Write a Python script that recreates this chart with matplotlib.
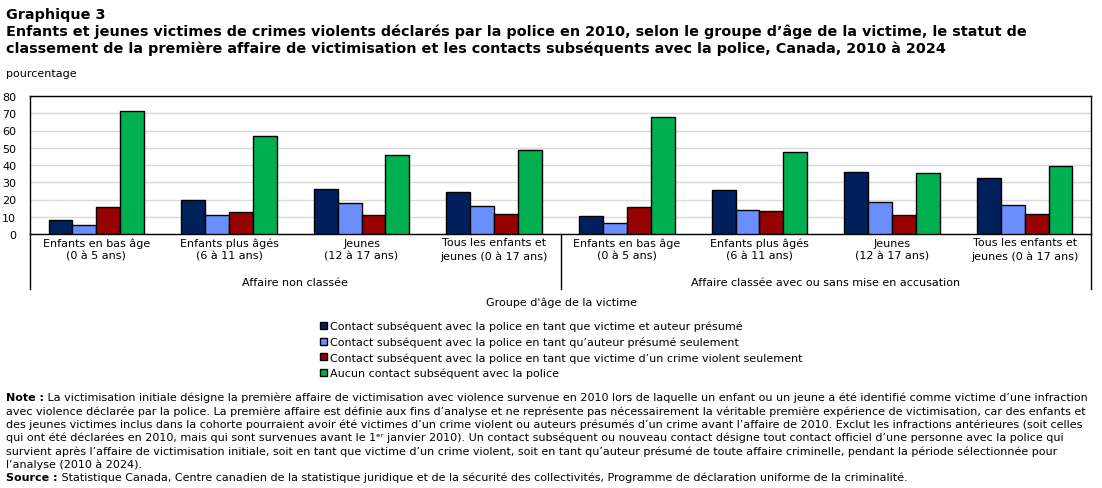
import numpy as np
import matplotlib
matplotlib.use("Agg")
import matplotlib.pyplot as plt
import matplotlib.transforms as mtransforms

W, H = 1102, 489

# Data
age_groups = ["Enfants en bas âge\n(0 à 5 ans)", "Enfants plus âgés\n(6 à 11 ans)",
              "Jeunes\n(12 à 17 ans)", "Tous les enfants et\njeunes (0 à 17 ans)"]
statuses = ["Affaire non classée", "Affaire classée avec ou sans mise en accusation"]
series_names = [
    "Contact subséquent avec la police en tant que victime et auteur présumé",
    "Contact subséquent avec la police en tant qu\u2019auteur présumé seulement",
    "Contact subséquent avec la police en tant que victime d\u2019un crime violent seulement",
    "Aucun contact subséquent avec la police",
]
victime_et_auteur = [8.1, 19.7, 26.1, 24.3, 10.4, 25.5, 35.9, 32.5]
auteur_seulement = [5.2, 11.0, 18.0, 16.2, 6.4, 13.9, 18.6, 16.8]
victime_seulement = [15.7, 12.8, 11.0, 11.6, 15.7, 13.3, 11.0, 11.6]
aucun_contact = [71.1, 56.6, 45.8, 48.7, 67.8, 47.5, 35.4, 39.4]
colors = ["#00205C", "#6B8EFF", "#960000", "#00B050"]

series = [victime_et_auteur, auteur_seulement, victime_seulement, aucun_contact]

fig = plt.figure(figsize=(W / 100, H / 100), dpi=100)


def ftext(x, y, s, **kw):
    return fig.text(x / W, 1 - y / H, s, **kw)


# axes in pixel coords
left, right, top, bottom = 30, 1091, 97, 235
ax = fig.add_axes([left / W, 1 - bottom / H, (right - left) / W, (bottom - top) / H])

x = np.arange(8)
bw = 0.18
for i, (vals, c) in enumerate(zip(series, colors)):
    ax.bar(x + (i - 1.5) * bw, vals, bw, color=c, edgecolor="black", linewidth=1,
           label=series_names[i], zorder=3)

ax.set_xlim(-0.5, 7.5)
ax.set_ylim(0, 80)
ax.set_yticks(range(0, 81, 10))
ax.yaxis.grid(True, color="#d9d9d9", linewidth=1, zorder=0)
ax.tick_params(axis="y", length=0, labelsize=8, pad=10)
ax.set_xticks([])
for sp in ax.spines.values():
    sp.set_linewidth(1)
    sp.set_color("black")

# category and status labels below the axis
tr = mtransforms.blended_transform_factory(ax.transData, ax.transAxes)
ph = bottom - top
for k in range(8):
    ax.text(k, -(250 - bottom) / ph, age_groups[k % 4], transform=tr, ha="center", va="center",
            fontsize=8, linespacing=1.3)
for j, s in enumerate(statuses):
    ax.text(1.5 + 4 * j, -(283 - bottom) / ph, s, transform=tr, ha="center", va="center", fontsize=8)
for xv in [-0.5, 3.5, 7.5]:
    ax.plot([xv, xv], [0, -(290 - bottom) / ph], transform=tr, color="black", linewidth=1,
            clip_on=False)

ftext(561, 303, "Groupe d'âge de la victime", ha="center", va="center", fontsize=8)

# legend
handles, labels = ax.get_legend_handles_labels()
leg = fig.legend(handles, labels, loc="upper left", bbox_to_anchor=(320 / W, 1 - 322 / H),
                 frameon=False, fontsize=8, handlelength=0.6, handleheight=0.6,
                 handletextpad=0.3, labelspacing=0.45, borderaxespad=0, borderpad=0)

# titles
fs_title = 10.35
ftext(6, 15, "Graphique 3", fontsize=fs_title, fontweight="bold", va="center")
ftext(6, 32, "Enfants et jeunes victimes de crimes violents déclarés par la police en 2010, selon le groupe d\u2019âge de la victime, le statut de",
      fontsize=fs_title, fontweight="bold", va="center")
ftext(6, 49, "classement de la première affaire de victimisation et les contacts subséquents avec la police, Canada, 2010 à 2024",
      fontsize=fs_title, fontweight="bold", va="center")
ftext(6, 74, "pourcentage", fontsize=8, va="center")

# notes
note_lines = [
    " La victimisation initiale désigne la première affaire de victimisation avec violence survenue en 2010 lors de laquelle un enfant ou un jeune a été identifié comme victime d\u2019une infraction",
    "avec violence déclarée par la police. La première affaire est définie aux fins d\u2019analyse et ne représente pas nécessairement la véritable première expérience de victimisation, car des enfants et",
    "des jeunes victimes inclus dans la cohorte pourraient avoir été victimes d\u2019un crime violent ou auteurs présumés d\u2019un crime avant l\u2019affaire de 2010. Exclut les infractions antérieures (soit celles",
    "qui ont été déclarées en 2010, mais qui sont survenues avant le 1\u1d49\u02b3 janvier 2010). Un contact subséquent ou nouveau contact désigne tout contact officiel d\u2019une personne avec la police qui",
    "survient après l\u2019affaire de victimisation initiale, soit en tant que victime d\u2019un crime violent, soit en tant qu\u2019auteur présumé de toute affaire criminelle, pendant la période sélectionnée pour",
    "l\u2019analyse (2010 à 2024).",
]
source_text = " Statistique Canada, Centre canadien de la statistique juridique et de la sécurité des collectivités, Programme de déclaration uniforme de la criminalité."

fs_note = 8.0
renderer = fig.canvas.get_renderer()
t = ftext(6, 398, "Note :", fontsize=fs_note, fontweight="bold", va="center")
wpx = t.get_window_extent(renderer).width
ftext(6 + wpx, 398, note_lines[0], fontsize=fs_note, va="center")
for i, line in enumerate(note_lines[1:]):
    ftext(6, 398 + 13.4 * (i + 1), line, fontsize=fs_note, va="center")
t = ftext(6, 478, "Source :", fontsize=fs_note, fontweight="bold", va="center")
wpx = t.get_window_extent(renderer).width
ftext(6 + wpx, 478, source_text, fontsize=fs_note, va="center")

fig.savefig("out.png", dpi=100)
